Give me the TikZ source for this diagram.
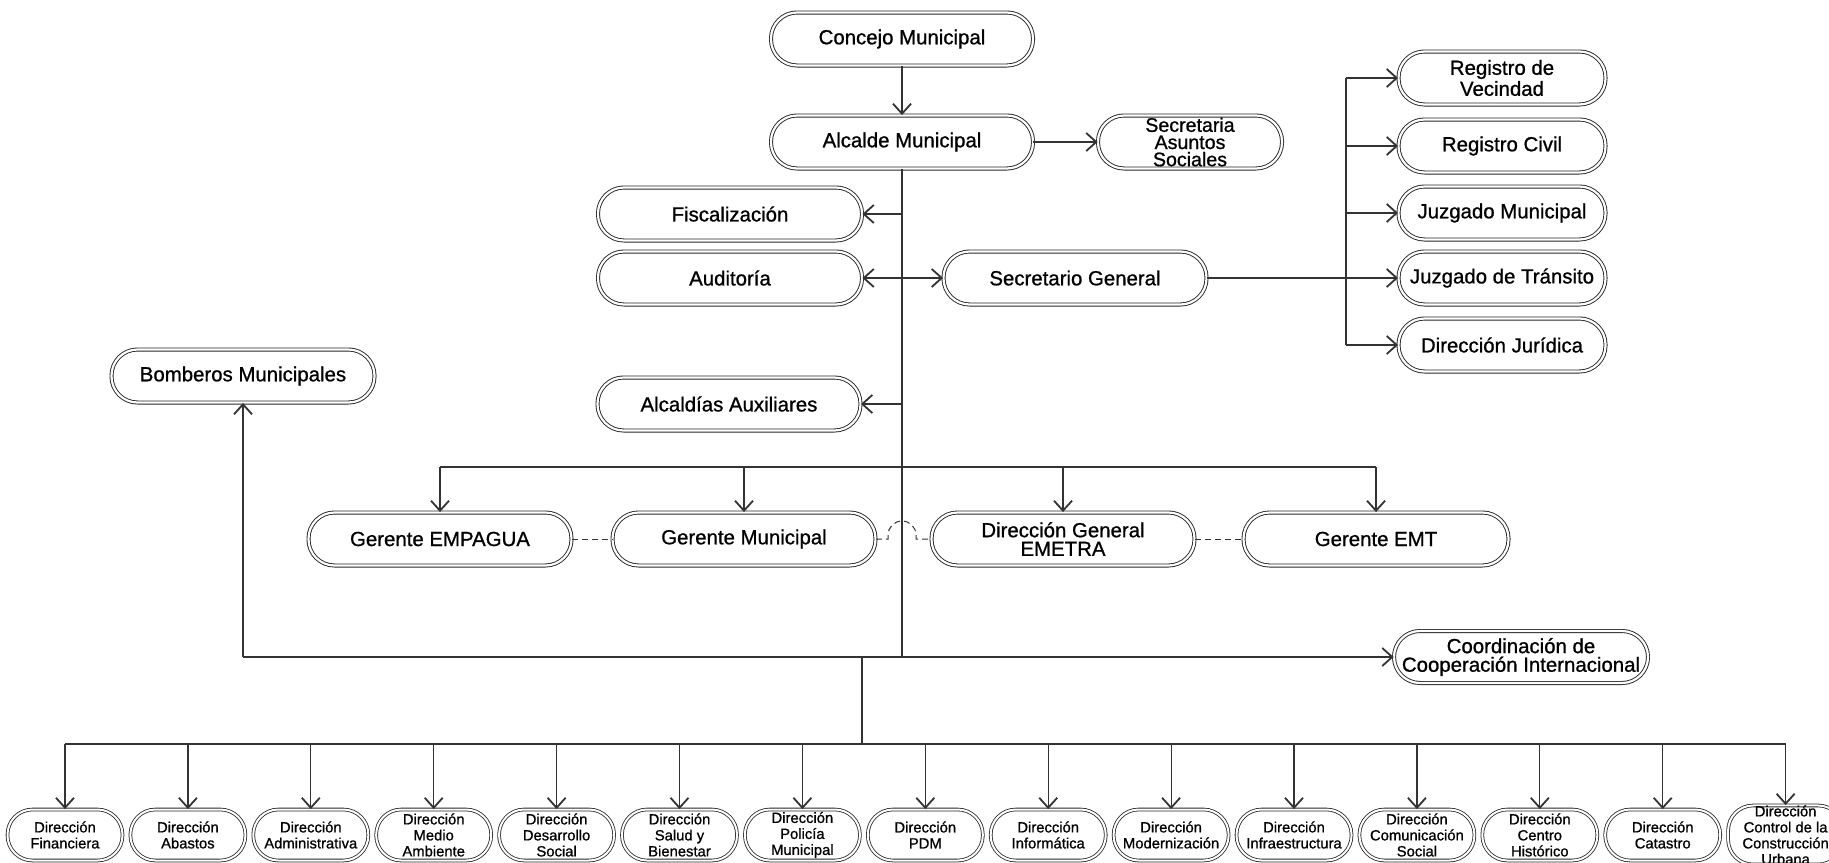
\documentclass[tikz,border=0pt]{standalone}
\usepackage{fontspec}
\setmainfont[FakeBold=0.9]{Liberation Sans}
\usetikzlibrary{arrows.meta}
\begin{document}
\begin{tikzpicture}[x=0.5pt,y=-0.5pt,
  box/.style={draw=black!85, double=white, double distance=1.1pt, line width=0.45pt,
    rounded corners=13pt, minimum height=26.5pt, minimum width=131pt, inner sep=0pt,
    align=center, font=\fontsize{10.2pt}{9.3pt}\selectfont},
  midbox/.style={box, minimum width=103.5pt},
  smallbox/.style={draw=black!85, double=white, double distance=1pt, line width=0.4pt,
    rounded corners=12.5pt, minimum height=25.5pt, minimum width=57.5pt, inner sep=0pt,
    align=center, font=\fontsize{7.4pt}{8pt}\selectfont},
  conn/.style={draw=black!80, line width=0.6pt},
  arr/.style={conn, -{Straight Barb[length=5pt,width=9pt,line width=0.9pt]}},
  arrtwo/.style={conn, {Straight Barb[length=5pt,width=9pt,line width=0.9pt]}-{Straight Barb[length=5pt,width=9pt,line width=0.9pt]}},
  dsh/.style={conn, line width=0.5pt, dash pattern=on 3pt off 2pt}
]
\useasboundingbox (0,0) rectangle (1829,862);

% top part
\node[box] (concejo) at (902,39) {Concejo Municipal};
\node[box] (alcalde) at (902,142) {Alcalde Municipal};
\node[box, minimum width=92pt, font=\fontsize{9.8pt}{8.6pt}\selectfont] (secas) at (1190,142) {Secretaria\\Asuntos\\Sociales};
\node[box, minimum width=132pt] (fisc) at (730,214) {Fiscalización};
\node[box, minimum width=132pt] (audit) at (730,278) {Auditoría};
\node[box, minimum width=131.5pt] (secgen) at (1075,278) {Secretario General};

% right column
\node[midbox] (regv) at (1502,78) {Registro de\\Vecindad};
\node[midbox] (regc) at (1502,146) {Registro Civil};
\node[midbox] (juzm) at (1502,213) {Juzgado Municipal};
\node[midbox] (juzt) at (1502,278) {Juzgado de Tránsito};
\node[midbox] (djur) at (1502,345) {Dirección Jurídica};

% middle
\node[box, minimum width=131.5pt] (bomb) at (243,376) {Bomberos Municipales};
\node[box, minimum width=131.5pt] (alcaux) at (729,404) {Alcaldías Auxiliares};

\node[box, minimum width=131.5pt] (empagua) at (440,539) {Gerente EMPAGUA};
\node[box, minimum width=131.5pt] (germun) at (744,539) {Gerente Municipal};
\node[box, minimum width=131.5pt] (dgem) at (1063,539) {Dirección General\\EMETRA};
\node[box, minimum width=132.5pt] (emt) at (1376,539) {Gerente EMT};

\node[box, minimum width=127pt, minimum height=26pt] (coord) at (1521,657) {Coordinación de\\Cooperación Internacional};

% bottom row
\foreach [count=\i] \t in {%
  {Dirección\\Financiera},{Dirección\\Abastos},{Dirección\\Administrativa},
  {Dirección\\Medio\\Ambiente},{Dirección\\Desarrollo\\Social},{Dirección\\Salud y\\Bienestar},
  {Dirección\\Policía\\Municipal},{Dirección\\PDM},{Dirección\\Informática},
  {Dirección\\Modernización},{Dirección\\Infraestructura},{Dirección\\Comunicación\\Social},
  {Dirección\\Centro\\Histórico},{Dirección\\Catastro},{Dirección\\Control de la\\Construcción\\Urbana}}
  \node[smallbox] (d\i) at ({65+122.9*(\i-1)},835) {\t};

% junction coordinates
\coordinate (j1) at (902,657);
\coordinate (j2) at (862,657);
\coordinate (bj) at (243,657);
\coordinate (bus) at (862,744);
\coordinate (gb) at (902,467);
\coordinate (rtx) at (1346,0);

% connectors top
\draw[arr] (concejo) -- (alcalde);
\draw[arr] (alcalde) -- (secas);
\draw[conn] (alcalde.south) -- (j1);
\draw[arr] (fisc.east -| alcalde.south) -- (fisc.east);
\draw[arrtwo] (audit.east) -- (secgen.west);
\draw[arr] (alcaux.east -| alcalde.south) -- (alcaux.east);

% right column connectors
\draw[arr] (secgen.east) -- (juzt.west);
\draw[conn] (regv.west -| rtx) -- (djur.west -| rtx);
\foreach \n in {regv,regc,juzm,djur}
  \draw[arr] (\n.west -| rtx) -- (\n.west);

% gerentes bus
\draw[conn] (empagua.north |- gb) -- (emt.north |- gb);
\foreach \n in {empagua,germun,dgem,emt}
  \draw[arr] (\n.north |- gb) -- (\n.north);

% dashed links
\draw[dsh] (empagua.east) -- (germun.west);
\draw[dsh] (germun.east) -- (888,539) -- (888,535) arc[start angle=180,end angle=0,radius=7pt] -- (916,539) -- (dgem.west);
\draw[dsh] (dgem.east) -- (emt.west);

% lower horizontal
\draw[arr] (bj) -- (coord.west);
\draw[arr] (bj) -- (bomb.south);
\draw[conn] (j2) -- (bus);

% bottom bus
\draw[conn] (d1.north |- bus) -- (d15.north |- bus);
\foreach \i in {1,...,15}
  \draw[arr] (d\i.north |- bus) -- (d\i.north);
\end{tikzpicture}
\end{document}
